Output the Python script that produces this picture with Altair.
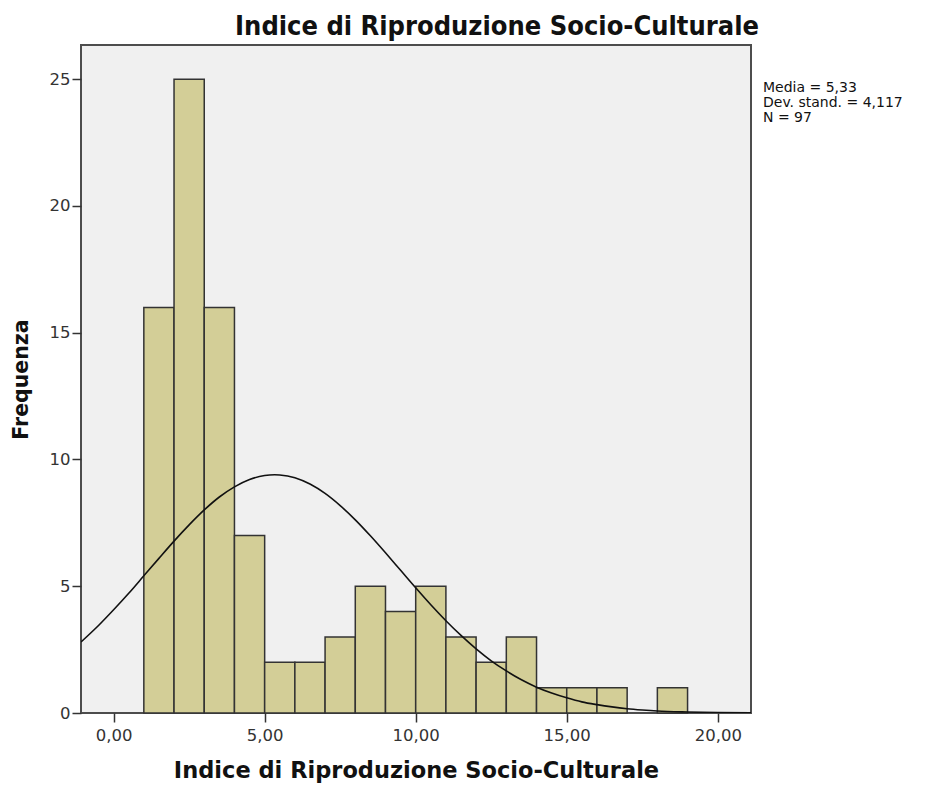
import altair as alt
import pandas as pd

# Histogram bins (lower edge, upper edge, frequency)
bin_start = [1, 2, 3, 4, 5, 6, 7, 8, 9, 10, 11, 12, 13, 14, 15, 16, 17, 18]
bin_end = [2, 3, 4, 5, 6, 7, 8, 9, 10, 11, 12, 13, 14, 15, 16, 17, 18, 19]
freq = [16, 25, 16, 7, 2, 2, 3, 5, 4, 5, 3, 2, 3, 1, 1, 1, 0, 1]

# Normal curve
curve_x = [-1.08, -0.5, 0, 0.5, 1, 1.5, 2, 2.5, 3, 3.5, 4, 4.5, 5, 5.33, 5.5, 6, 6.5, 7, 7.5,
           8, 8.5, 9, 9.5, 10, 10.5, 11, 11.5, 12, 12.5, 13, 13.5, 14, 14.5, 15, 15.5, 16,
           16.5, 17, 17.5, 18, 19, 20, 21.1]
curve_y = [2.80, 3.45, 4.07, 4.72, 5.41, 6.10, 6.78, 7.42, 8.01, 8.52, 8.92, 9.21, 9.37, 9.40,
           9.39, 9.28, 9.03, 8.66, 8.18, 7.62, 6.99, 6.32, 5.63, 4.94, 4.27, 3.64, 3.06, 2.53,
           2.06, 1.66, 1.31, 1.02, 0.79, 0.60, 0.44, 0.33, 0.24, 0.17, 0.12, 0.08, 0.04,
           0.016, 0.005]

stats_lines = ["Media = 5,33", "Dev. stand. = 4,117", "N = 97"]

title_text = "Indice di Riproduzione Socio-Culturale"
x_title = "Indice di Riproduzione Socio-Culturale"
y_title = "Frequenza"
x_ticks = [0, 5, 10, 15, 20]
y_ticks = [0, 5, 10, 15, 20, 25]

bars_df = pd.DataFrame({"start": bin_start, "end": bin_end, "freq": freq})
bars_df = bars_df[bars_df["freq"] > 0]
curve_df = pd.DataFrame({"x": curve_x, "y": curve_y})
stats_df = pd.DataFrame({"text": [stats_lines]})

W, H = 670, 668
xscale = alt.Scale(domain=[-1.08, 21.1], nice=False, zero=False)
yscale = alt.Scale(domain=[0, 26.35], nice=False)

label_font = "DejaVu Sans"
title_font = "DejaVu Sans Condensed"
axis_title_font = "DejaVu Sans"

xaxis = alt.Axis(
    values=x_ticks,
    labelExpr="replace(format(datum.value, '.2f'), '.', ',')",
    title=x_title,
    domain=False,
    grid=False,
    tickSize=9,
    tickWidth=1.5,
    tickColor="#333333",
    labelFont=label_font,
    labelFontSize=16.5,
    labelColor="#333333",
    labelPadding=5,
    titleFont=axis_title_font,
    titleFontSize=22.5,
    titleFontWeight="bold",
    titleColor="#111111",
    titlePadding=16,
)
yaxis = alt.Axis(
    values=y_ticks,
    title=y_title,
    domain=False,
    grid=False,
    tickSize=9,
    tickWidth=1.5,
    tickColor="#333333",
    labelFont=label_font,
    labelFontSize=16.5,
    labelColor="#333333",
    labelPadding=2,
    titleFont=axis_title_font,
    titleFontSize=20.5,
    titleFontWeight="bold",
    titleColor="#111111",
    titlePadding=18,
)

bars = alt.Chart(bars_df).mark_rect(
    fill="#d3ce97", stroke="#333333", strokeWidth=1.5
).encode(
    x=alt.X("start:Q", scale=xscale, axis=xaxis),
    x2="end:Q",
    y=alt.Y("freq:Q", scale=yscale, axis=yaxis),
    y2=alt.datum(0),
)

line = alt.Chart(curve_df).mark_line(
    color="#111111", strokeWidth=1.6, interpolate="monotone", clip=True
).encode(
    x=alt.X("x:Q", scale=xscale),
    y=alt.Y("y:Q", scale=yscale),
)

stats = alt.Chart(stats_df).mark_text(
    align="left", baseline="alphabetic", font="DejaVu Sans", fontSize=14,
    lineHeight=15, color="#111111"
).encode(
    x=alt.value(W + 12),
    y=alt.value(47),
    text="text",
)

chart = alt.layer(bars, line, stats).properties(
    width=W,
    height=H,
    title=alt.TitleParams(
        title_text, font=title_font, fontSize=27, fontWeight="bold",
        color="#111111", anchor="middle", dx=81, offset=4,
    ),
    autosize=alt.AutoSizeParams(type="none"),
    padding={"left": 73, "top": 37, "right": 178, "bottom": 80},
    background="white",
).configure_view(
    fill="#f0f0f0", stroke="#4d4d4d", strokeWidth=2
)

chart.save("out.html", embed_options={"renderer": "svg", "actions": False})
